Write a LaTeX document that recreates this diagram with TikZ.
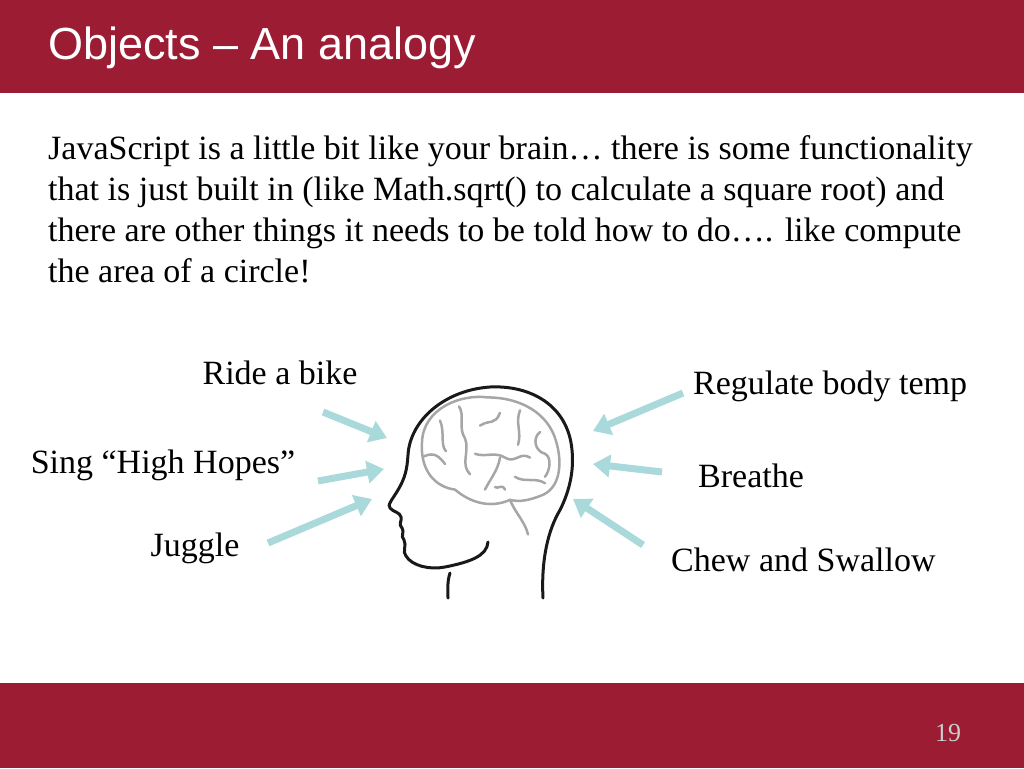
\documentclass[tikz,border=0pt]{standalone}
\usepackage{fontspec}
\setmainfont{Liberation Serif}
\newfontfamily\hfont{Liberation Sans}
\usetikzlibrary{arrows.meta}
\definecolor{band}{HTML}{9C1C33}
\definecolor{teal}{HTML}{A9D9DA}
\begin{document}
\begin{tikzpicture}[x=1pt,y=-1pt,
  lbl/.style={font=\fontsize{34}{40}\selectfont,inner sep=0pt},
  arr/.style={teal,line width=7pt,-{Triangle[length=17pt,width=22pt]}},
  headln/.style={line width=3pt,black!90,line cap=round,line join=round},
  brainln/.style={line width=2.5pt,black!35,line cap=round,line join=round}]
\useasboundingbox (0,0) rectangle (1024,768);
\fill[band] (0,0) rectangle (1024,93);
\fill[band] (0,683) rectangle (1024,768);
\node[anchor=west,text=white,font=\hfont\fontsize{45}{50}\selectfont,inner sep=0pt] (title) at (48,48) {Objects – An analogy};
\node[anchor=north west,align=left,inner sep=0pt,font=\fontsize{34}{41}\selectfont] (body) at (48,135) {JavaScript is a little bit like your brain\dots{} there is some functionality\\that is just built in (like Math.sqrt() to calculate a square root) and\\there are other things it needs to be told how to do\dots. like compute\\the area of a circle!};
\node[text=white!80!black,font=\fontsize{26}{30}\selectfont] (pg) at (948,733) {19};
% labels
\node[lbl] (ride) at (280,373) {Ride a bike};
\node[lbl] (sing) at (163,465) {Sing “High Hopes”};
\node[lbl] (jug) at (195,548) {Juggle};
\node[lbl,anchor=west] (reg) at (693,386) {Regulate body temp};
\node[lbl,anchor=west] (bre) at (698,476) {Breathe};
\node[lbl,anchor=west] (chew) at (671,560) {Chew and Swallow};
% arrows
\coordinate (a1) at (323,412); \coordinate (b1) at (387,438);
\coordinate (a2) at (318,481); \coordinate (b2) at (384,469);
\coordinate (a3) at (268,543); \coordinate (b3) at (372,499);
\coordinate (a4) at (683,393); \coordinate (b4) at (593,431);
\coordinate (a5) at (662,472); \coordinate (b5) at (593,464);
\coordinate (a6) at (643,545); \coordinate (b6) at (573,499);
\foreach \i in {1,...,6} \draw[arr] (a\i) -- (b\i);
% head
\draw[headln] (543,598) .. controls (541,560) and (548,530) .. (560,510)
  .. controls (570,490) and (574,470) .. (572,450)
  .. controls (568,405) and (530,385) .. (490,387)
  .. controls (445,390) and (410,420) .. (408,455)
  .. controls (407,470) and (405,478) .. (398,490)
  .. controls (392,500) and (387,505) .. (390,508)
  .. controls (393,512) and (400,512) .. (401,517)
  .. controls (402,522) and (398,524) .. (402,528)
  .. controls (405,532) and (400,536) .. (404,540)
  .. controls (407,545) and (402,552) .. (406,556)
  .. controls (412,566) and (430,570) .. (445,567)
  .. controls (470,562) and (487,556) .. (488,542);
\draw[headln] (450,573) .. controls (447,582) and (448,590) .. (448,598);
% brain
\begin{scope}[shift={(0,400)},yscale=1.28,shift={(0,-400)}]
\draw[brainln] (422,433) .. controls (423,407) and (460,395) .. (488,398)
  .. controls (520,398) and (548,410) .. (556,432)
  .. controls (563,450) and (560,470) .. (540,475)
  .. controls (530,478) and (520,480) .. (510,478)
  .. controls (490,485) and (470,480) .. (455,470)
  .. controls (435,468) and (420,455) .. (422,433);
\draw[brainln] (510,478) .. controls (515,488) and (525,495) .. (528,505);
\draw[brainln] (440,416) .. controls (445,425) and (440,435) .. (446,440);
\draw[brainln] (424,444) .. controls (435,440) and (440,445) .. (445,450);
\draw[brainln] (459,405) .. controls (465,412) and (458,422) .. (465,430) .. controls (470,440) and (460,450) .. (470,458);
\draw[brainln] (480,420) .. controls (490,415) and (495,420) .. (500,410);
\draw[brainln] (475,442) .. controls (485,445) and (495,440) .. (505,445) .. controls (515,450) and (520,440) .. (530,445);
\draw[brainln] (500,445) .. controls (498,455) and (490,462) .. (485,470);
\draw[brainln] (520,408) .. controls (515,418) and (522,425) .. (518,435);
\draw[brainln] (540,425) .. controls (532,430) and (535,440) .. (545,442) .. controls (552,445) and (550,455) .. (545,460);
\draw[brainln] (515,460) .. controls (525,465) and (535,460) .. (545,465);
\draw[brainln] (505,470) .. controls (502,465) and (498,470) .. (495,468);
\end{scope}
\end{tikzpicture}
\end{document}
